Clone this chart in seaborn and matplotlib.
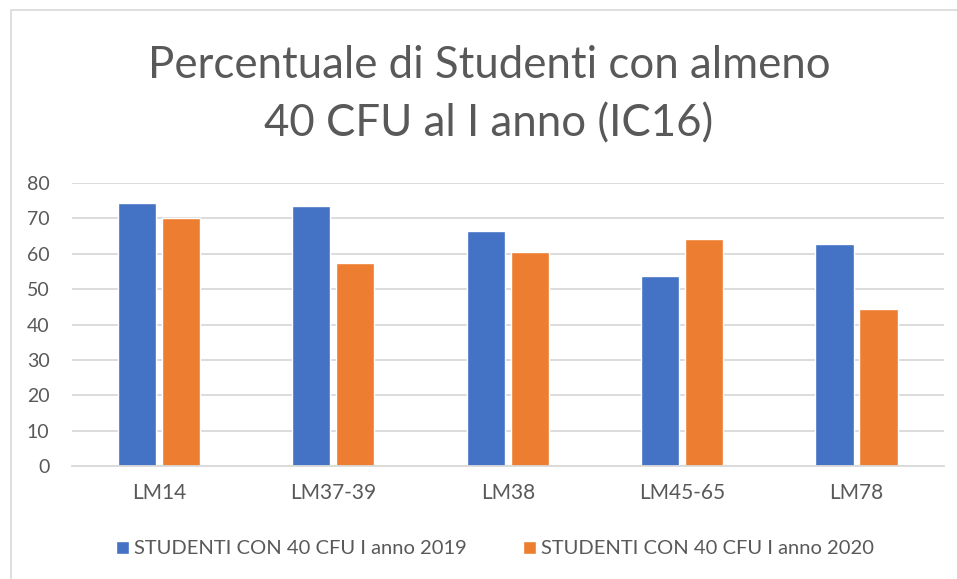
import matplotlib
matplotlib.use("Agg")
import matplotlib.pyplot as plt
import seaborn as sns
import pandas as pd
from matplotlib.patches import Rectangle

categories = ["LM14", "LM37-39", "LM38", "LM45-65", "LM78"]
values_2019 = [74.3, 73.4, 66.3, 53.6, 62.8]
values_2020 = [70.2, 57.3, 60.6, 64.3, 44.3]
series_names = ["STUDENTI CON 40 CFU I anno 2019", "STUDENTI CON 40 CFU I anno 2020"]
yticks = [0, 10, 20, 30, 40, 50, 60, 70, 80]
title_lines = ["Percentuale di Studenti con almeno", "40 CFU al I anno (IC16)"]

df = pd.DataFrame({
    "cat": categories * 2,
    "val": values_2019 + values_2020,
    "series": [series_names[0]] * len(categories) + [series_names[1]] * len(categories),
})

sns.set_theme(style="white")
plt.rcParams["font.family"] = ["Lato", "DejaVu Sans"]
txt = "#595959"

fig = plt.figure(figsize=(9.57, 5.79), dpi=100)
ax = fig.add_axes([0.075, 0.195, 0.911, 0.489])

sns.barplot(data=df, x="cat", y="val", hue="series", order=categories,
            hue_order=series_names, palette=["#4472C4", "#ED7D31"],
            width=0.505, gap=0.13, ax=ax, legend=True, saturation=1)

ax.set_ylim(0, 80)
ax.set_xlim(-0.5, len(categories) - 0.5)
ax.set_yticks(yticks)
ax.set_yticklabels([str(t) for t in yticks])
ax.yaxis.grid(True, color="#d9d9d9", linewidth=1.3)
ax.set_axisbelow(True)
for s in ["top", "right", "left"]:
    ax.spines[s].set_visible(False)
ax.spines["bottom"].set_color("#d9d9d9")
ax.spines["bottom"].set_linewidth(1.3)
ax.tick_params(axis="both", length=0, colors=txt)
ax.tick_params(axis="x", labelsize=15, pad=12)
ax.tick_params(axis="y", labelsize=14, pad=16)
ax.set_xlabel("")
ax.set_ylabel("")

handles, labels = ax.get_legend_handles_labels()
ax.legend_.remove()
fig.legend(handles, labels, loc="center", bbox_to_anchor=(0.517, 0.052), ncol=2,
           frameon=False, fontsize=14.5, labelcolor=txt, handlelength=0.65,
           handleheight=0.65, handletextpad=0.25, columnspacing=2.8)

fig.text(0.511, 1 - 78 / 579, title_lines[0], ha="center", va="baseline",
         fontsize=31.5, color=txt)
fig.text(0.511, 1 - 136 / 579, title_lines[1], ha="center", va="baseline",
         fontsize=31.5, color=txt)

fig.patches.append(Rectangle((0.012, -0.01), 0.99, 0.993, transform=fig.transFigure,
                             fill=False, edgecolor="#d9d9d9", linewidth=1.2))

fig.savefig("out.png", dpi=100)
